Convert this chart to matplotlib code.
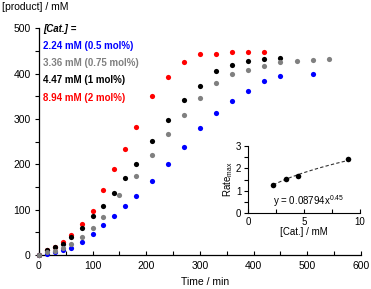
import numpy as np
import matplotlib
matplotlib.use("Agg")
import matplotlib.pyplot as plt
from matplotlib.ticker import MultipleLocator

plt.rcParams["font.family"] = ["Liberation Sans", "DejaVu Sans"]
plt.rcParams["mathtext.default"] = "regular"

# ---- data ----
t_blue = [0, 15, 30, 45, 60, 80, 100, 120, 140, 160, 180, 210, 240, 270, 300, 330, 360, 390, 420, 450, 510]
y_blue = [0, 3, 7, 12, 16, 28, 46, 67, 87, 109, 130, 163, 200, 239, 281, 314, 340, 361, 383, 394, 399]

t_gray = [0, 15, 30, 45, 60, 80, 100, 120, 150, 180, 210, 240, 270, 300, 330, 360, 390, 420, 450, 480, 510, 540]
y_gray = [0, 6, 9, 15, 24, 39, 60, 84, 132, 174, 220, 268, 308, 347, 380, 399, 409, 418, 427, 428, 431, 432]

t_black = [0, 15, 30, 45, 60, 80, 100, 120, 140, 160, 180, 210, 240, 270, 300, 330, 360, 390, 420, 450]
y_black = [0, 10, 18, 24, 40, 59, 86, 109, 136, 169, 200, 252, 297, 343, 374, 406, 420, 429, 433, 434]

t_red = [0, 15, 30, 45, 60, 80, 100, 120, 140, 160, 180, 210, 240, 270, 300, 330, 360, 390, 420]
y_red = [0, 12, 17, 28, 44, 69, 98, 143, 189, 233, 282, 352, 393, 427, 443, 443, 447, 447, 447]

legend_labels = ["2.24 mM (0.5 mol%)", "3.36 mM (0.75 mol%)", "4.47 mM (1 mol%)", "8.94 mM (2 mol%)"]
legend_colors = ["#0000ff", "#808080", "#000000", "#ff0000"]

# inset: max rate vs catalyst loading
cat_conc = [2.24, 3.36, 4.47, 8.94]
rate_max = [1.27, 1.55, 1.65, 2.40]
fit_a, fit_b = 0.8794, 0.45

fig = plt.figure(figsize=(3.71, 2.89), dpi=100)

# =====================================
# MAIN PLOT
# =====================================
ax = fig.add_axes([0.105, 0.1176, 0.868, 0.784])
ms = 14
ax.scatter(t_blue, y_blue, s=ms, color="#0000ff", lw=0, clip_on=False, zorder=3)
ax.scatter(t_red, y_red, s=ms, color="#ff0000", lw=0, clip_on=False, zorder=3)
ax.scatter(t_black, y_black, s=ms, color="#000000", lw=0, clip_on=False, zorder=3)
ax.scatter(t_gray, y_gray, s=ms, color="#808080", lw=0, clip_on=False, zorder=3)

ax.set_xlim(0, 600)
ax.set_ylim(0, 500)
ax.xaxis.set_major_locator(MultipleLocator(100))
ax.xaxis.set_minor_locator(MultipleLocator(50))
ax.yaxis.set_major_locator(MultipleLocator(100))
ax.yaxis.set_minor_locator(MultipleLocator(50))
ax.tick_params(axis="x", which="both", direction="in", length=3, width=0.8, labelsize=7.5, pad=4)
ax.tick_params(axis="y", which="both", direction="out", length=3, width=0.8, labelsize=7.5, pad=3)
for s in ["top", "right"]:
    ax.spines[s].set_visible(False)
for s in ["left", "bottom"]:
    ax.spines[s].set_linewidth(0.9)

fig.text(205 / 371, 1 - 282 / 289, "Time / min", ha="center", va="center", fontsize=7.5)
fig.text(2 / 371, 1 - 7 / 289, "[product] / mM", ha="left", va="center", fontsize=7.5)

fig.text(43 / 371, 1 - 29 / 289, "[Cat.] =", ha="left", va="center", fontsize=7,
         fontweight="bold", fontstyle="italic", color="black")
for i, (lab, col) in enumerate(zip(legend_labels, legend_colors)):
    fig.text(43 / 371, 1 - (45.7 + 17.3 * i) / 289, lab, ha="left", va="center",
             fontsize=7, fontweight="bold", color=col)

# =====================================
# INSET
# =====================================
ax2 = fig.add_axes([248.3 / 371, 1 - 213.3 / 289, 111.7 / 371, 67.3 / 289])
xfit = np.linspace(min(cat_conc), max(cat_conc), 50)
ax2.plot(xfit, fit_a * xfit ** fit_b, ls=(0, (3, 2)), color="#333333", lw=0.8)
ax2.scatter(cat_conc, rate_max, s=16, color="black", lw=0, zorder=3)
ax2.set_xlim(0, 10)
ax2.set_ylim(0, 3)
ax2.xaxis.set_major_locator(MultipleLocator(5))
ax2.xaxis.set_minor_locator(MultipleLocator(2.5))
ax2.yaxis.set_major_locator(MultipleLocator(1))
ax2.yaxis.set_minor_locator(MultipleLocator(0.5))
ax2.tick_params(axis="x", which="both", direction="in", length=3, width=0.8, labelsize=7, pad=3)
ax2.tick_params(axis="y", which="both", direction="out", length=3, width=0.8, labelsize=7, pad=2)
for s in ["top", "right"]:
    ax2.spines[s].set_visible(False)
ax2.patch.set_alpha(0)
ax2.set_xlabel("[Cat.] / mM", fontsize=7, labelpad=0)
ax2.set_ylabel("Rate$_{max}$", fontsize=7, labelpad=1)
ax2.text(2.2, 0.55, "y = 0.08794x$^{0.45}$", fontsize=7, ha="left", va="center")

fig.savefig("out.png", dpi=100)
